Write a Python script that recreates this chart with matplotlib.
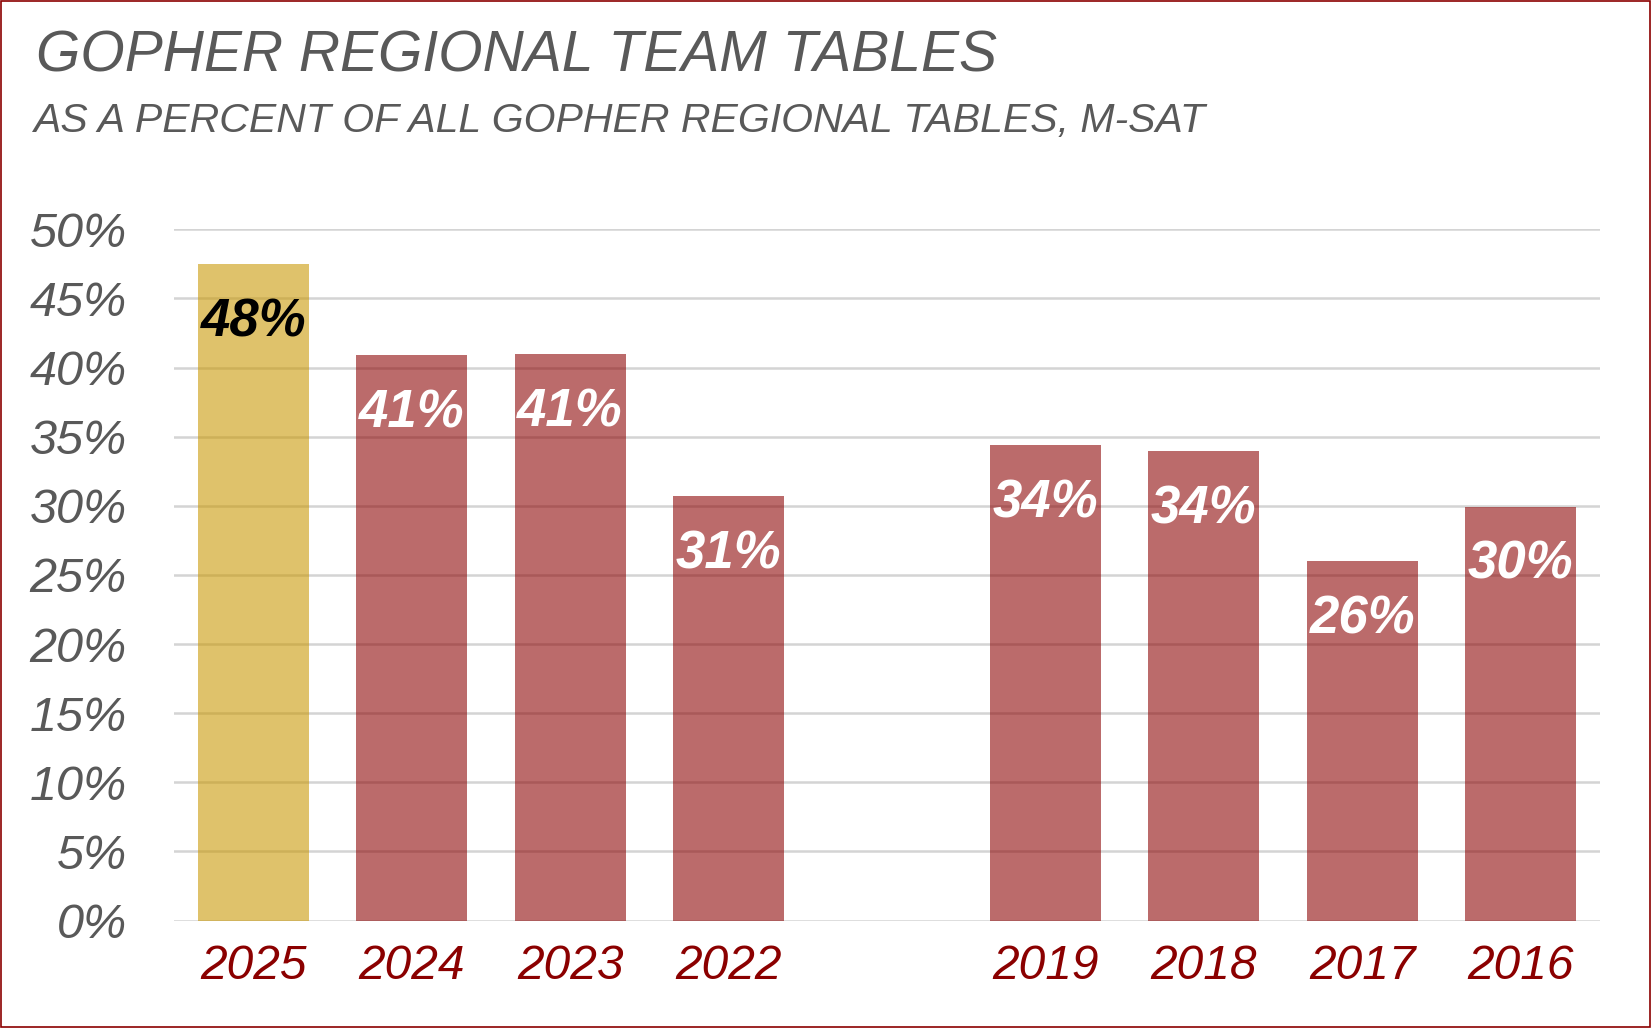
import numpy as np
import matplotlib
matplotlib.use('Agg')
import matplotlib.pyplot as plt
from matplotlib.patches import Rectangle

# データ（2020, 2021 は空き枠）
years = ['2025', '2024', '2023', '2022', '', '2019', '2018', '2017', '2016']
shares = [47.5, 40.9, 41.0, 30.7, np.nan, 34.4, 33.95, 26.0, 29.95]
highlight_year = '2025'
yticks = [0, 5, 10, 15, 20, 25, 30, 35, 40, 45, 50]

title = 'GOPHER REGIONAL TEAM TABLES'
subtitle = 'AS A PERCENT OF ALL GOPHER REGIONAL TABLES, M-SAT'

plt.rcParams['font.family'] = ['Liberation Sans', 'DejaVu Sans']

gray = '#595959'
dark_red = '#8B0000'
gold = '#C99700'

fig = plt.figure(figsize=(16.51, 10.28), dpi=100)
ax = fig.add_axes([0.1054, 0.1045, 0.8637, 0.6724])

x = np.arange(len(years))
colors = [gold if y == highlight_year else dark_red for y in years]
ax.bar(x, shares, width=0.7, color=colors, alpha=0.58, zorder=3)

# 棒の中のラベル
for xi, y, v in zip(x, years, shares):
    if np.isnan(v):
        continue
    ax.annotate(f'{v:.0f}%', (xi, v), xytext=(0, -42), textcoords='offset points',
                ha='center', va='center', fontsize=38, fontweight='bold',
                fontstyle='italic', color='black' if y == highlight_year else 'white',
                zorder=5)

ax.set_xlim(-0.5, len(years) - 0.5)
ax.set_ylim(0, 50)
ax.set_yticks(yticks)
ax.set_yticklabels([f'{t}%' for t in yticks], fontsize=35, fontstyle='italic', color=gray)
ax.set_xticks(x)
ax.set_xticklabels(years, fontsize=34.5, fontstyle='italic', color=dark_red)
ax.tick_params(axis='y', length=0, pad=34)
ax.tick_params(axis='x', length=0, pad=17)
ax.grid(axis='y', color='#D4D4D4', linewidth=1.8, zorder=1)
ax.set_axisbelow(True)
for s in ax.spines.values():
    s.set_visible(False)

fig.text(0.022, 1 - 72 / 1028, title, fontsize=41, fontstyle='italic', color=gray, va='baseline')
fig.text(0.020, 1 - 132 / 1028, subtitle, fontsize=29.5, fontstyle='italic', color=gray, va='baseline')

# 外枠
fig.patches.append(Rectangle((0.0005, 0.0008), 0.999, 0.9985, transform=fig.transFigure,
                             fill=False, edgecolor=dark_red, linewidth=1.2))

plt.savefig('out.png', dpi=100)
